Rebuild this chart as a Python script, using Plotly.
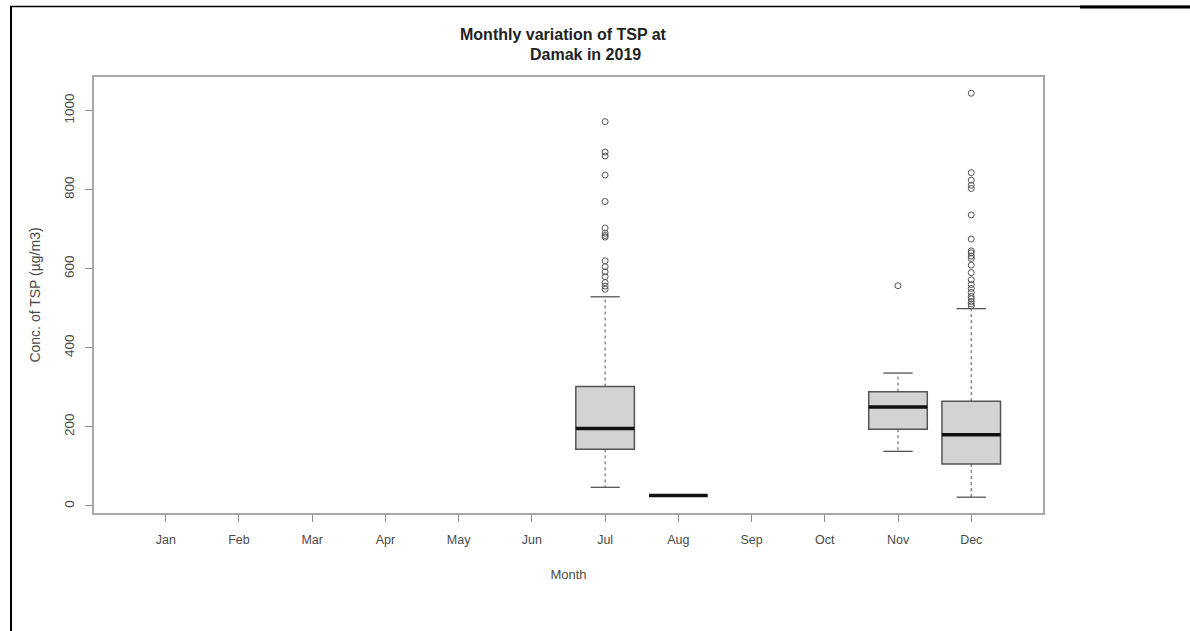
import plotly.graph_objects as go

# ---------------- data ----------------
months = ['Jan', 'Feb', 'Mar', 'Apr', 'May', 'Jun',
          'Jul', 'Aug', 'Sep', 'Oct', 'Nov', 'Dec']
box_months = ['Jul', 'Aug', 'Nov', 'Dec']
q1 = [143, 26, 194, 106]
median = [196, 26, 250, 180]
q3 = [302, 26, 289, 265]
lower_whisker = [47, 26, 138, 22]
upper_whisker = [529, 26, 336, 499]
outliers = {
    'Jul': [972, 895, 885, 837, 770, 703, 690, 684, 680, 620, 605, 592, 580, 565, 556, 548],
    'Aug': [],
    'Nov': [557],
    'Dec': [1044, 843, 824, 811, 803, 736, 675, 645, 640, 632, 626, 609, 590, 572,
            560, 550, 540, 530, 524, 517, 511, 506],
}
y_ticks = [0, 200, 400, 600, 800, 1000]

title_line1 = 'Monthly variation of TSP at'
title_line2 = 'Damak in 2019'
x_title = 'Month'
y_title = 'Conc. of TSP (µg/m3)'

# ---------------- geometry / style ----------------
W, H = 1190, 631
L, R, T, B = 94, 147, 77, 118
PW, PH = W - L - R, H - T - B
BOX_W = 0.8
FONT = 'Liberation Sans, Arial, sans-serif'
GRAY_TXT = '#4a4a4a'
BOX_LINE = '#555555'
FRAME = '#a8a8a8'

pos = [months.index(m) + 1 for m in box_months]

fig = go.Figure()

# boxes (fill + outline)
fig.add_trace(go.Box(
    x=pos, q1=q1, median=median, q3=q3,
    lowerfence=q1, upperfence=q3,
    width=BOX_W, fillcolor='#d3d3d3',
    line=dict(color=BOX_LINE, width=1.5),
    boxpoints=False, whiskerwidth=0, hoverinfo='skip', showlegend=False,
))

# dashed whiskers
wx, wy = [], []
for p, a, b, lo, hi in zip(pos, q1, q3, lower_whisker, upper_whisker):
    wx += [p, p, None, p, p, None]
    wy += [b, hi, None, a, lo, None]
fig.add_trace(go.Scatter(x=wx, y=wy, mode='lines',
                         line=dict(color=BOX_LINE, width=1, dash='3px,3px'),
                         hoverinfo='skip', showlegend=False))

# staples
sx, sy = [], []
for p, lo, hi in zip(pos, lower_whisker, upper_whisker):
    sx += [p - BOX_W / 4, p + BOX_W / 4, None, p - BOX_W / 4, p + BOX_W / 4, None]
    sy += [hi, hi, None, lo, lo, None]
fig.add_trace(go.Scatter(x=sx, y=sy, mode='lines',
                         line=dict(color=BOX_LINE, width=1.3),
                         hoverinfo='skip', showlegend=False))

# medians (thick)
mx, my = [], []
for p, m in zip(pos, median):
    mx += [p - BOX_W / 2, p + BOX_W / 2, None]
    my += [m, m, None]
fig.add_trace(go.Scatter(x=mx, y=my, mode='lines',
                         line=dict(color='#111111', width=3.5),
                         hoverinfo='skip', showlegend=False))

# outliers
ox, oy = [], []
for m in box_months:
    vals = outliers[m]
    ox += [months.index(m) + 1] * len(vals)
    oy += vals
fig.add_trace(go.Scatter(x=ox, y=oy, mode='markers',
                         marker=dict(symbol='circle-open', size=6,
                                     color='#555555', line=dict(width=1)),
                         hoverinfo='skip', showlegend=False))

axis_common = dict(
    showgrid=False, zeroline=False, showline=True, mirror=True,
    linecolor=FRAME, linewidth=2, ticks='outside', ticklen=7,
    tickcolor='#8a8a8a', tickwidth=1,
)

fig.update_layout(
    width=W, height=H,
    margin=dict(l=L, r=R, t=T, b=B),
    paper_bgcolor='white', plot_bgcolor='white',
    font=dict(family=FONT, size=12, color=GRAY_TXT),
    xaxis=dict(range=[0.02, 12.98], tickmode='array',
               tickvals=list(range(1, 13)), ticktext=months,
               tickfont=dict(family=FONT, size=12.5, color=GRAY_TXT),
               ticklabelstandoff=7,
               title=dict(text=x_title, font=dict(family=FONT, size=13, color=GRAY_TXT),
                          standoff=24),
               **axis_common),
    yaxis=dict(range=[-18, 1085], tickmode='array', tickvals=y_ticks,
               ticktext=[str(v) for v in y_ticks], tickangle=-90,
               tickfont=dict(family=FONT, size=13.5, color=GRAY_TXT),
               ticklabelstandoff=6,
               title=dict(text=y_title, font=dict(family=FONT, size=14, color=GRAY_TXT),
                          standoff=18),
               **axis_common),
)


def px_x(px):
    return (px - L) / PW


def px_y(py):
    return 1 - (py - T) / PH


# title (two centred lines, second line offset as in the reference)
fig.add_annotation(text='<b>' + title_line1 + '</b>', xref='paper', yref='paper',
                   x=px_x(563), y=px_y(34), showarrow=False,
                   xanchor='center', yanchor='middle',
                   font=dict(family=FONT, size=16, color='#222222'))
fig.add_annotation(text='<b>' + title_line2 + '</b>', xref='paper', yref='paper',
                   x=px_x(585), y=px_y(54), showarrow=False,
                   xanchor='center', yanchor='middle',
                   font=dict(family=FONT, size=16, color='#222222'))

# outer page border (top + left black rules)
fig.add_shape(type='line', xref='paper', yref='paper',
              x0=px_x(10), x1=px_x(W), y0=px_y(6.5), y1=px_y(6.5),
              line=dict(color='black', width=1.5))
fig.add_shape(type='line', xref='paper', yref='paper',
              x0=px_x(1080), x1=px_x(W), y0=px_y(7), y1=px_y(7),
              line=dict(color='black', width=3))
fig.add_shape(type='line', xref='paper', yref='paper',
              x0=px_x(11), x1=px_x(11), y0=px_y(6), y1=px_y(H),
              line=dict(color='black', width=2))

fig.write_html('out.html',
               config={'displayModeBar': False},
               post_script="document.body.style.margin='0';"
                           "document.body.style.overflow='hidden';")
